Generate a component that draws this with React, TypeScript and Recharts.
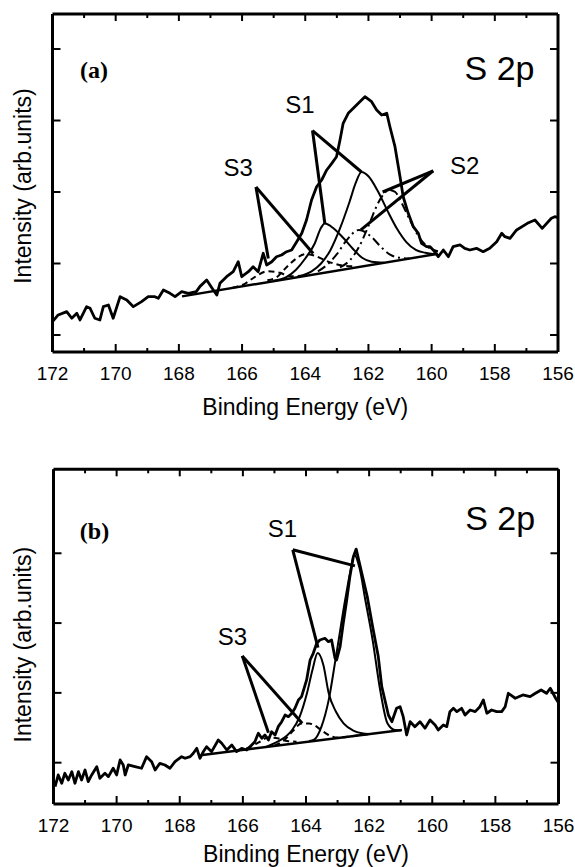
import { Line, LineChart, ReferenceDot, ReferenceLine, XAxis, YAxis } from "recharts";

type Pt = [number, number];

const SANS = "'Liberation Sans', Arial, sans-serif";
const SERIF = "'Liberation Serif', 'Times New Roman', serif";

// binding energy ticks (eV), labels on the even ones
const X_TICKS = [172, 171, 170, 169, 168, 167, 166, 165, 164, 163, 162, 161, 160, 159, 158, 157, 156];
const Y_TICKS_A = [0, 10, 20, 30, 40];
const Y_TICKS_B = [0, 10, 20, 30];

// ---- panel (a): measured S 2p spectrum, [eV, intensity]
const SPEC_A: Pt[] = [
  [172.0, 1.86], [171.82, 2.8], [171.55, 3.26], [171.39, 2.34], [171.23, 3.03], [171.13, 2.1],
  [170.92, 3.96], [170.81, 3.73], [170.66, 2.34], [170.5, 2.1], [170.39, 3.96], [170.23, 4.2],
  [170.08, 2.34], [169.86, 5.36], [169.65, 4.9], [169.44, 3.96], [169.18, 4.66], [168.97, 5.36],
  [168.76, 5.36], [168.65, 5.13], [168.49, 6.29], [168.28, 5.83], [168.12, 5.36], [167.91, 6.06],
  [167.7, 5.83], [167.45, 6.06], [167.33, 6.8], [167.12, 7.69], [166.91, 6.29], [166.8, 5.59],
  [166.7, 7.23], [166.49, 8.15], [166.28, 8.85], [166.12, 10.25], [166.01, 8.15], [165.8, 8.85],
  [165.65, 9.55], [165.49, 8.85], [165.33, 11.43], [165.22, 9.79], [165.06, 10.25], [164.91, 10.95],
  [164.75, 11.19], [164.59, 11.65], [164.43, 11.89], [164.27, 13.05], [164.11, 14.22], [163.96, 16.08],
  [163.8, 18.88], [163.64, 20.74], [163.48, 21.68], [163.32, 23.08], [163.16, 24.01], [163.01, 24.94],
  [162.9, 27.27], [162.8, 29.61], [162.64, 31.01], [162.48, 31.71], [162.32, 32.41], [162.11, 33.33],
  [161.9, 32.63], [161.74, 31.47], [161.58, 30.77], [161.42, 31.01], [161.32, 29.13], [161.16, 26.34],
  [161.0, 22.14], [160.9, 19.34], [160.74, 17.02], [160.58, 15.15], [160.42, 14.22], [160.32, 12.82],
  [160.16, 12.35], [160.05, 12.35], [159.95, 11.89], [159.79, 10.95], [159.63, 11.89], [159.47, 10.95],
  [159.32, 12.35], [159.1, 12.59], [158.95, 12.12], [158.79, 11.89], [158.58, 12.12], [158.37, 11.65],
  [158.16, 12.12], [157.94, 13.05], [157.78, 14.22], [157.68, 13.75], [157.52, 13.52], [157.31, 14.69],
  [156.97, 15.62], [156.73, 16.08], [156.5, 14.92], [156.21, 16.32], [156.1, 16.55], [156.0, 16.4],
];
const BASE_A: Pt[] = [[167.9, 5.4], [159.8, 11.35]];
const S1_MAIN_A: Pt[] = [
  [164.2, 8.2], [163.8, 8.9], [163.5, 10.0], [163.2, 11.9], [162.9, 14.9], [162.6, 18.6], [162.4, 21.3],
  [162.22, 22.8], [162.0, 22.2], [161.7, 20.1], [161.4, 17.4], [161.1, 14.9], [160.8, 13.0], [160.5, 11.9],
  [160.2, 11.5], [159.9, 11.3],
];
const S1_SUB_A: Pt[] = [
  [165.0, 7.6], [164.6, 8.1], [164.3, 9.1], [164.0, 10.7], [163.7, 12.8], [163.5, 15.0], [163.38, 15.6],
  [163.1, 14.9], [162.8, 13.6], [162.5, 12.1], [162.2, 10.8], [161.9, 10.25], [161.5, 10.12],
];
const S2_MAIN_A: Pt[] = [
  [162.9, 9.45], [162.6, 10.4], [162.3, 12.3], [162.0, 15.25], [161.7, 18.4], [161.5, 19.8], [161.35, 20.3],
  [161.15, 20.0], [161.0, 18.9], [160.7, 16.2], [160.4, 13.7], [160.1, 12.25], [159.8, 11.7],
];
const S2_SUB_A: Pt[] = [
  [163.6, 8.9], [163.3, 9.85], [163.0, 11.3], [162.7, 13.2], [162.3, 14.7], [161.9, 13.7], [161.6, 12.3],
  [161.3, 11.2], [161.0, 10.8], [160.7, 10.7],
];
const S3_MAIN_A: Pt[] = [
  [165.2, 7.65], [164.9, 8.1], [164.6, 9.45], [164.3, 10.65], [164.0, 11.3], [163.7, 11.1], [163.4, 10.5],
  [163.1, 10.0], [162.8, 9.7], [162.5, 9.6],
];
const S3_SUB_A: Pt[] = [
  [166.3, 6.6], [165.9, 7.2], [165.6, 8.1], [165.2, 8.9], [164.8, 8.7], [164.5, 8.2], [164.1, 8.3],
];

// ---- panel (b)
const SPEC_B: Pt[] = [
  [171.95, -3.44], [171.85, -1.76], [171.74, -2.95], [171.64, -1.52], [171.53, -2.48], [171.42, -1.29],
  [171.32, -2.95], [171.21, -1.29], [171.11, -2.48], [171.0, -1.05], [170.9, -2.72], [170.79, -1.76],
  [170.63, -0.57], [170.53, -2.24], [170.37, -1.52], [170.26, -2.0], [170.11, -0.8], [170.0, -1.76],
  [169.89, 0.39], [169.79, -0.33], [169.73, -1.76], [169.63, -0.33], [169.42, -0.57], [169.21, -0.8],
  [169.05, 0.86], [168.89, 0.14], [168.78, -1.05], [168.63, -0.09], [168.47, -0.33], [168.31, -0.8],
  [168.15, 0.14], [167.94, 0.86], [167.83, 0.63], [167.67, 0.86], [167.57, 1.35], [167.46, 2.06],
  [167.36, 0.63], [167.25, 1.6], [167.15, 2.29], [166.99, 1.58], [166.78, 3.25], [166.67, 2.78],
  [166.51, 1.82], [166.35, 2.54], [166.2, 1.58], [166.04, 2.06], [165.88, 1.82], [165.72, 2.54],
  [165.62, 3.01], [165.51, 4.21], [165.4, 3.5], [165.3, 3.97], [165.19, 3.25], [165.09, 4.44],
  [164.98, 3.97], [164.88, 5.16], [164.77, 5.87], [164.66, 6.83], [164.56, 6.59], [164.45, 7.08],
  [164.35, 7.79], [164.24, 8.98], [164.14, 9.46], [163.98, 11.85], [163.87, 14.71], [163.77, 15.67],
  [163.66, 17.11], [163.56, 17.58], [163.4, 17.82], [163.29, 17.34], [163.19, 17.58], [163.08, 14.96],
  [163.03, 14.71], [162.92, 16.62], [162.82, 19.97], [162.71, 23.31], [162.61, 26.65], [162.5, 29.51],
  [162.41, 30.6], [162.23, 27.1], [162.06, 23.8], [161.89, 19.5], [161.71, 15.2], [161.6, 10.9],
  [161.5, 8.98], [161.39, 6.83], [161.28, 5.87], [161.13, 7.79], [161.02, 8.02], [160.92, 6.59],
  [160.81, 3.97], [160.7, 5.87], [160.55, 5.16], [160.39, 5.87], [160.23, 4.93], [160.07, 6.12],
  [159.91, 5.4], [159.81, 4.68], [159.65, 5.4], [159.54, 5.16], [159.44, 7.31], [159.33, 7.79],
  [159.22, 7.31], [159.07, 7.79], [158.96, 6.83], [158.8, 7.55], [158.64, 7.31], [158.49, 8.02],
  [158.38, 8.98], [158.27, 7.08], [158.12, 7.55], [157.96, 7.31], [157.8, 7.31], [157.69, 8.02],
  [157.59, 9.94], [157.37, 9.23], [157.13, 9.7], [156.9, 9.46], [156.73, 9.94], [156.55, 10.42],
  [156.38, 9.94], [156.26, 10.66], [156.09, 9.23], [156.0, 8.6],
];
const BASE_B: Pt[] = [[167.28, 1.1], [160.96, 4.68]];
const S1_MAIN_B: Pt[] = [
  [163.9, 3.1], [163.74, 3.3], [163.51, 5.16], [163.28, 9.0], [163.05, 15.2], [162.76, 23.3], [162.6, 27.3],
  [162.47, 29.8], [162.3, 27.8], [162.12, 23.3], [161.89, 17.6], [161.65, 10.4], [161.42, 5.64],
  [161.19, 4.68], [161.0, 4.6],
];
const S1_SUB_B: Pt[] = [
  [165.3, 2.2], [164.9, 3.0], [164.6, 3.9], [164.44, 4.68], [164.2, 6.6], [163.97, 9.94], [163.8, 13.2],
  [163.63, 15.7], [163.45, 14.0], [163.28, 9.94], [163.05, 7.3], [162.81, 5.64], [162.5, 4.6],
  [162.23, 4.21], [162.0, 4.1],
];
const S3_MAIN_B: Pt[] = [
  [165.0, 2.45], [164.7, 3.2], [164.4, 4.6], [164.15, 5.6], [163.9, 5.6], [163.75, 5.4], [163.5, 4.6],
  [163.3, 4.0], [163.0, 3.6], [162.6, 3.75], [162.3, 3.97], [162.0, 4.1],
];
const S3_SUB_B: Pt[] = [
  [166.2, 1.7], [165.8, 2.2], [165.5, 2.9], [165.2, 3.6], [164.9, 3.5], [164.6, 3.1], [164.3, 3.0],
];

// leader lines: [from, to] in eV / intensity
const LEADERS_A: [Pt, Pt][] = [
  [[163.77, 28.6], [163.38, 15.6]],
  [[163.77, 28.6], [162.22, 22.8]],
  [[165.56, 20.7], [165.17, 10.7]],
  [[165.56, 20.7], [163.75, 11.4]],
  [[159.95, 22.97], [161.55, 20.0]],
  [[159.95, 22.97], [162.24, 14.7]],
];
const LEADERS_B: [Pt, Pt][] = [
  [[164.42, 30.5], [162.45, 28.2]],
  [[164.42, 30.5], [163.62, 16.5]],
  [[166.02, 15.3], [165.19, 4.3]],
  [[166.02, 15.3], [164.12, 5.64]],
];

type Tag = { text: string; at: Pt; size: number; serif?: boolean };
const TAGS_A: Tag[] = [
  { text: "S1", at: [164.17, 32.2], size: 24 },
  { text: "S3", at: [166.12, 23.5], size: 24 },
  { text: "S2", at: [158.95, 23.7], size: 24 },
  { text: "S 2p", at: [157.85, 37.3], size: 34 },
  { text: "(a)", at: [170.69, 37.1], size: 24, serif: true },
];
const TAGS_B: Tag[] = [
  { text: "S1", at: [164.75, 33.6], size: 24 },
  { text: "S3", at: [166.33, 18.15], size: 24 },
  { text: "S 2p", at: [157.85, 35.1], size: 34 },
  { text: "(b)", at: [170.7, 33.3], size: 24, serif: true },
];

const AXIS_LINE = { stroke: "#000", strokeWidth: 3 };

function BottomTick({ x, y, payload }: any) {
  const major = payload.value % 2 === 0;
  return (
    <g>
      <line x1={x} x2={x} y1={y} y2={y - (major ? 8 : 4)} stroke="#000" strokeWidth={2} />
      {major && (
        <text x={x} y={y + 21} textAnchor="middle" dominantBaseline="central" fontSize={19} fontFamily={SANS} fill="#000">
          {payload.value}
        </text>
      )}
    </g>
  );
}

function TopTick({ x, y, payload }: any) {
  const major = payload.value % 2 === 0;
  return <line x1={x} x2={x} y1={y} y2={y + (major ? 7 : 4)} stroke="#000" strokeWidth={2} />;
}

function LeftTick({ x, y }: any) {
  return <line x1={x} x2={x + 8} y1={y} y2={y} stroke="#000" strokeWidth={2} />;
}

function RightTick({ x, y }: any) {
  return <line x1={x} x2={x - 8} y1={y} y2={y} stroke="#000" strokeWidth={2} />;
}

const rows = (pts: Pt[]) => pts.map(([e, v]) => ({ e, v }));

interface PanelProps {
  height: number;
  topH: number;
  bottomH: number;
  leftW: number;
  rightW: number;
  yDomain: [number, number];
  yTicks: number[];
  yTitleDy: number;
  xTitleDy: number;
  spectrum: Pt[];
  baseline: Pt[];
  solid: Pt[][];
  dashed: Pt[][];
  dashDot: Pt[][];
  leaders: [Pt, Pt][];
  tags: Tag[];
}

function Panel(p: PanelProps) {
  const fit = (pts: Pt[], i: number, dash?: string) => (
    <Line
      key={`${dash ?? "s"}-${i}`}
      data={rows(pts)}
      dataKey="v"
      xAxisId="b"
      yAxisId="l"
      type="monotone"
      stroke="#000"
      strokeWidth={2}
      strokeDasharray={dash}
      dot={false}
      activeDot={false}
      isAnimationActive={false}
    />
  );

  return (
    <LineChart width={575} height={p.height} margin={{ top: 0, right: 0, bottom: 0, left: 0 }}>
      <XAxis
        xAxisId="b"
        dataKey="e"
        type="number"
        domain={[156, 172]}
        reversed
        allowDataOverflow
        ticks={X_TICKS}
        interval={0}
        height={p.bottomH}
        tick={<BottomTick />}
        tickLine={false}
        tickSize={0}
        tickMargin={0}
        axisLine={AXIS_LINE}
        label={(lp: any) => (
          <text
            x={lp.viewBox.x + lp.viewBox.width / 2}
            y={lp.viewBox.y + p.xTitleDy}
            textAnchor="middle"
            dominantBaseline="central"
            fontSize={23}
            fontFamily={SANS}
            fill="#000"
          >
            Binding Energy (eV)
          </text>
        )}
      />
      <XAxis
        xAxisId="t"
        dataKey="e"
        orientation="top"
        type="number"
        domain={[156, 172]}
        reversed
        allowDataOverflow
        ticks={X_TICKS}
        interval={0}
        height={p.topH}
        tick={<TopTick />}
        tickLine={false}
        tickSize={0}
        tickMargin={0}
        axisLine={AXIS_LINE}
      />
      <YAxis
        yAxisId="l"
        type="number"
        domain={p.yDomain}
        allowDataOverflow
        ticks={p.yTicks}
        interval={0}
        width={p.leftW}
        tick={<LeftTick />}
        tickLine={false}
        tickSize={0}
        tickMargin={0}
        axisLine={AXIS_LINE}
        label={(lp: any) => {
          const cx = lp.viewBox.x + 23;
          const cy = lp.viewBox.y + lp.viewBox.height / 2 + p.yTitleDy;
          return (
            <text
              x={cx}
              y={cy}
              transform={`rotate(-90 ${cx} ${cy})`}
              textAnchor="middle"
              dominantBaseline="central"
              fontSize={23}
              fontFamily={SANS}
              fill="#000"
            >
              Intensity (arb.units)
            </text>
          );
        }}
      />
      <YAxis
        yAxisId="r"
        orientation="right"
        type="number"
        domain={p.yDomain}
        allowDataOverflow
        ticks={p.yTicks}
        interval={0}
        width={p.rightW}
        tick={<RightTick />}
        tickLine={false}
        tickSize={0}
        tickMargin={0}
        axisLine={AXIS_LINE}
      />

      <Line
        data={rows(p.baseline)}
        dataKey="v"
        xAxisId="b"
        yAxisId="l"
        type="linear"
        stroke="#000"
        strokeWidth={2.5}
        dot={false}
        activeDot={false}
        isAnimationActive={false}
      />
      {p.dashed.map((pts, i) => fit(pts, i, "6 4"))}
      {p.dashDot.map((pts, i) => fit(pts, i, "9 4 2 4"))}
      {p.solid.map((pts, i) => fit(pts, i))}
      <Line
        data={rows(p.spectrum)}
        dataKey="v"
        xAxisId="b"
        yAxisId="l"
        type="linear"
        stroke="#000"
        strokeWidth={2.8}
        strokeLinejoin="round"
        dot={false}
        activeDot={false}
        isAnimationActive={false}
      />

      {p.leaders.map(([a, b], i) => (
        <ReferenceLine
          key={`ld-${i}`}
          xAxisId="b"
          yAxisId="l"
          segment={[{ x: a[0], y: a[1] }, { x: b[0], y: b[1] }]}
          stroke="#000"
          strokeWidth={3}
          ifOverflow="visible"
        />
      ))}
      {p.tags.map((t) => (
        <ReferenceDot
          key={t.text}
          xAxisId="b"
          yAxisId="l"
          x={t.at[0]}
          y={t.at[1]}
          r={0}
          fill="none"
          stroke="none"
          label={{
            value: t.text,
            position: "center",
            fontSize: t.size,
            fontFamily: t.serif ? SERIF : SANS,
            fontWeight: t.serif ? 700 : 400,
            fill: "#000",
          }}
        />
      ))}
    </LineChart>
  );
}

export default function App() {
  return (
    <div style={{ position: "absolute", left: 0, top: 0, width: 575, height: 867, background: "#fff" }}>
      <Panel
        height={440}
        topH={14}
        bottomH={88}
        leftW={52.5}
        rightW={17}
        yDomain={[-2.38, 44.9]}
        yTicks={Y_TICKS_A}
        yTitleDy={3}
        xTitleDy={55}
        spectrum={SPEC_A}
        baseline={BASE_A}
        solid={[S1_MAIN_A, S1_SUB_A]}
        dashed={[S3_MAIN_A, S3_SUB_A]}
        dashDot={[S2_MAIN_A, S2_SUB_A]}
        leaders={LEADERS_A}
        tags={TAGS_A}
      />
      <Panel
        height={427}
        topH={29.3}
        bottomH={63}
        leftW={53.5}
        rightW={16.5}
        yDomain={[-5.92, 42.03]}
        yTicks={Y_TICKS_B}
        yTitleDy={8}
        xTitleDy={50}
        spectrum={SPEC_B}
        baseline={BASE_B}
        solid={[S1_MAIN_B, S1_SUB_B]}
        dashed={[S3_MAIN_B, S3_SUB_B]}
        dashDot={[]}
        leaders={LEADERS_B}
        tags={TAGS_B}
      />
    </div>
  );
}
